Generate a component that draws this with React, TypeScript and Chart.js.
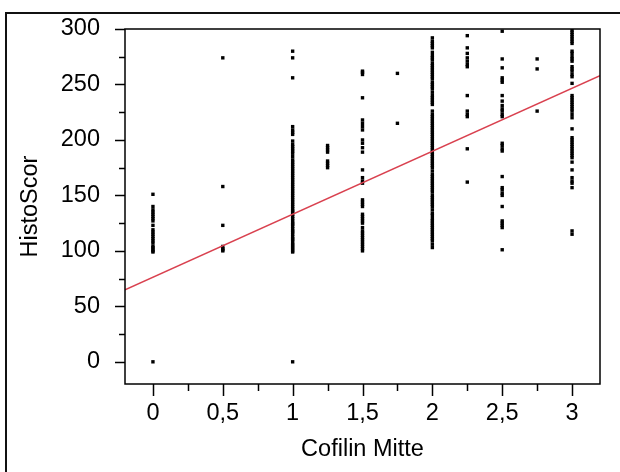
import React, { useEffect, useRef } from "react";
import { Chart, registerables } from "chart.js";

Chart.register(...registerables);

// Cofilin Mitte score levels (x) and HistoScor values (y) at each level
const level0 = [0, 99, 100, 101, 103, 104, 107, 109, 111, 113, 115, 117, 119, 123, 127, 129, 131, 133, 135, 137, 140, 151];
const level05 = [100, 101, 102, 104, 123, 158, 274];
const level1 = [0, 99, 100, 102, 103, 105, 106, 108, 110, 111, 113, 115, 117, 118, 120, 122, 124, 125, 127, 129, 131, 133, 135, 136, 138, 140, 142, 144, 146, 148, 150, 152, 154, 156, 158, 160, 162, 164, 166, 168, 170, 172, 174, 176, 178, 180, 182, 185, 188, 190, 192, 194, 196, 199, 205, 207, 209, 212, 256, 274, 280];
const level125 = [175, 177, 179, 181, 189, 191, 193, 195];
const level15 = [100, 102, 104, 106, 108, 110, 112, 114, 116, 118, 121, 125, 127, 129, 131, 133, 140, 142, 144, 146, 161, 163, 166, 173, 189, 193, 197, 200, 209, 212, 215, 218, 238, 259, 261, 262];
const level175 = [215, 260];
const level2 = [103, 106, 109, 111, 113, 115, 117, 119, 121, 123, 125, 127, 129, 132, 134, 137, 140, 142, 144, 146, 148, 150, 153, 155, 157, 159, 161, 163, 165, 167, 169, 172, 175, 177, 179, 181, 183, 185, 187, 189, 191, 193, 195, 197, 199, 201, 203, 205, 207, 209, 211, 213, 215, 217, 219, 221, 223, 226, 232, 234, 236, 238, 240, 243, 246, 248, 250, 252, 255, 257, 259, 261, 263, 265, 267, 269, 272, 274, 276, 279, 283, 285, 287, 289, 292];
const level225 = [162, 192, 221, 223, 226, 240, 266, 268, 271, 274, 278, 283, 294];
const level25 = [101, 121, 123, 125, 127, 140, 150, 152, 155, 157, 167, 190, 192, 195, 197, 221, 223, 226, 228, 231, 235, 240, 252, 254, 256, 265, 273, 298];
const level275 = [226, 264, 273];
const level3 = [115, 118, 157, 161, 163, 166, 173, 180, 184, 186, 188, 190, 192, 194, 196, 198, 200, 202, 210, 220, 223, 226, 228, 230, 232, 234, 236, 238, 240, 251, 257, 259, 262, 264, 266, 271, 273, 275, 278, 280, 287, 289, 291, 293, 295, 297, 299];

const xLevels = [0, 0.5, 1, 1.25, 1.5, 1.75, 2, 2.25, 2.5, 2.75, 3];
const yByLevel = [level0, level05, level1, level125, level15, level175, level2, level225, level25, level275, level3];

// fitted regression line
const fitIntercept = 76.2;
const fitSlope = 56.8;

const xTickValues = [0, 0.5, 1, 1.5, 2, 2.5, 3];
const xMinorValues = [0.25, 0.75, 1.25, 1.75, 2.25, 2.75];
const yTickValues = [0, 50, 100, 150, 200, 250, 300];
const yMinorValues = [25, 75, 125, 175, 225, 275];
const xMin = -0.2;
const xMax = 3.2;
const yMin = -20;
const yMax = 300;

const FONT = "'Liberation Sans', Arial, sans-serif";
const FONT_SIZE = 23.5;

export default function App() {
  const ref = useRef<HTMLCanvasElement | null>(null);

  useEffect(() => {
    const canvas = ref.current;
    if (!canvas) return;

    const points: { x: number; y: number }[] = [];
    xLevels.forEach((xv, i) => {
      yByLevel[i].forEach((yv) => points.push({ x: xv, y: yv }));
    });

    const framePlugin = {
      id: "framePlugin",
      afterDraw(chart: any) {
        const { ctx, chartArea, scales } = chart;
        const xs = scales.x;
        const ys = scales.y;
        ctx.save();
        // outer frame
        ctx.strokeStyle = "#111";
        ctx.lineWidth = 2;
        ctx.beginPath();
        ctx.moveTo(6, 480);
        ctx.lineTo(6, 13);
        ctx.lineTo(630, 13);
        ctx.stroke();
        // plot box
        ctx.strokeStyle = "#000";
        ctx.lineWidth = 1.5;
        ctx.strokeRect(chartArea.left, chartArea.top, chartArea.right - chartArea.left, chartArea.bottom - chartArea.top);
        // ticks
        ctx.lineWidth = 1.5;
        ctx.beginPath();
        yTickValues.forEach((v) => {
          const p = Math.round(ys.getPixelForValue(v)) + 0.5;
          ctx.moveTo(chartArea.left - 10, p);
          ctx.lineTo(chartArea.left, p);
        });
        yMinorValues.forEach((v) => {
          const p = Math.round(ys.getPixelForValue(v)) + 0.5;
          ctx.moveTo(chartArea.left - 6, p);
          ctx.lineTo(chartArea.left, p);
        });
        xTickValues.forEach((v) => {
          const p = Math.round(xs.getPixelForValue(v)) + 0.5;
          ctx.moveTo(p, chartArea.bottom);
          ctx.lineTo(p, chartArea.bottom + 12);
        });
        xMinorValues.forEach((v) => {
          const p = Math.round(xs.getPixelForValue(v)) + 0.5;
          ctx.moveTo(p, chartArea.bottom);
          ctx.lineTo(p, chartArea.bottom + 7);
        });
        ctx.stroke();
        ctx.restore();
      },
    };

    const chart = new Chart(canvas, {
      type: "scatter",
      data: {
        datasets: [
          {
            type: "line",
            label: "Fit",
            data: [
              { x: xMin, y: fitIntercept + fitSlope * xMin },
              { x: xMax, y: fitIntercept + fitSlope * xMax },
            ],
            borderColor: "#d9414f",
            borderWidth: 1.6,
            pointRadius: 0,
            fill: false,
            order: 0,
          } as any,
          {
            label: "HistoScor",
            data: points,
            backgroundColor: "#000",
            borderWidth: 0,
            pointStyle: "rect",
            pointRadius: 2.4,
            order: 1,
          },
        ],
      },
      options: {
        responsive: false,
        animation: false,
        devicePixelRatio: 1,
        layout: { padding: { left: 0, top: 29, right: 20, bottom: 0 } },
        plugins: { legend: { display: false }, tooltip: { enabled: false } },
        scales: {
          x: {
            type: "linear",
            min: xMin,
            max: xMax,
            afterBuildTicks: (s: any) => {
              s.ticks = xTickValues.map((v) => ({ value: v }));
            },
            afterFit: (s: any) => {
              s.height = 88;
              s.paddingLeft = 0;
              s.paddingRight = 0;
              s.paddingTop = 0;
              s.paddingBottom = 0;
            },
            grid: { display: false, drawTicks: false },
            border: { display: false },
            ticks: {
              padding: 15,
              color: "#000",
              font: { family: FONT, size: FONT_SIZE },
              maxRotation: 0,
              callback: (v: any) => String(v).replace(".", ","),
            },
            title: {
              display: true,
              text: "Cofilin Mitte",
              color: "#000",
              font: { family: FONT, size: FONT_SIZE },
              padding: { top: 0, bottom: 8 },
            },
          },
          y: {
            type: "linear",
            min: yMin,
            max: yMax,
            afterBuildTicks: (s: any) => {
              s.ticks = yTickValues.map((v) => ({ value: v }));
            },
            afterFit: (s: any) => {
              s.width = 125;
              s.paddingLeft = 0;
              s.paddingRight = 0;
              s.paddingTop = 0;
              s.paddingBottom = 0;
            },
            grid: { display: false, drawTicks: false },
            border: { display: false },
            ticks: {
              padding: 25,
              color: "#000",
              font: { family: FONT, size: FONT_SIZE },
            },
            title: {
              display: true,
              text: "HistoScor",
              color: "#000",
              font: { family: FONT, size: FONT_SIZE },
              padding: { top: 16, bottom: 0 },
            },
          },
        },
      },
      plugins: [framePlugin],
    });

    return () => chart.destroy();
  }, []);

  return (
    <div style={{ position: "absolute", left: 0, top: 0, width: 620, height: 472, background: "#fff" }}>
      <canvas ref={ref} width={620} height={472} style={{ display: "block" }} />
    </div>
  );
}
